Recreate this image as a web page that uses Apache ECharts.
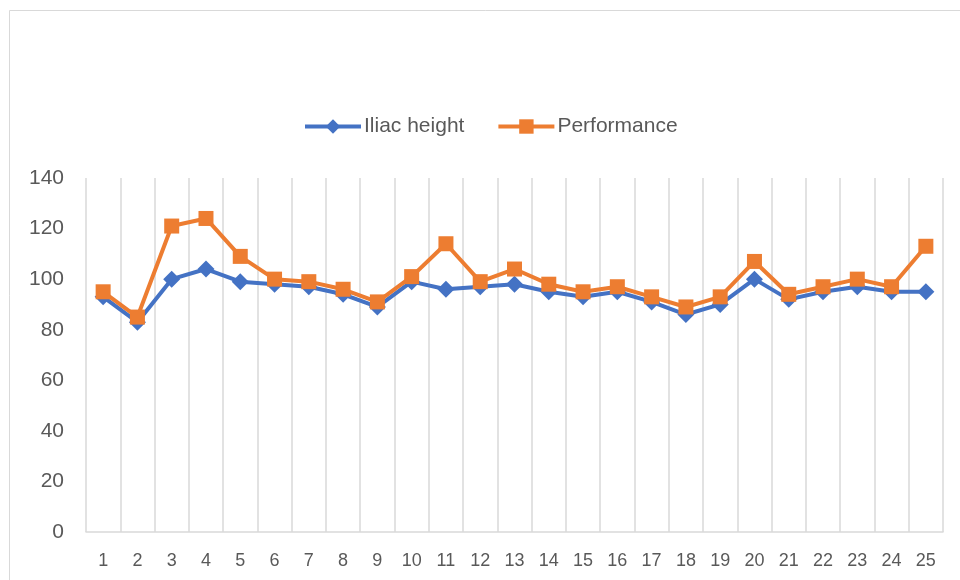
<!DOCTYPE html>
<html>
<head>
<meta charset="utf-8">
<script src="https://cdn.jsdelivr.net/npm/echarts@6/dist/echarts.min.js"></script>
<style>
html,body{margin:0;padding:0;background:#fff;}
#chart{width:960px;height:580px;}
</style>
</head>
<body>
<div id="chart"></div>
<script>
const categories = ['1','2','3','4','5','6','7','8','9','10','11','12','13','14','15','16','17','18','19','20','21','22','23','24','25'];
const iliacHeight = [93, 83, 100, 104, 99, 98, 97, 94, 89, 99, 96, 97, 98, 95, 93, 95, 91, 86, 90, 100, 92, 95, 97, 95, 95];
const performance = [95, 85, 121, 124, 109, 100, 99, 96, 91, 101, 114, 99, 104, 98, 95, 97, 93, 89, 93, 107, 94, 97, 100, 97, 113];
const yTicks = [0, 20, 40, 60, 80, 100, 120, 140];

const FONT = '"Liberation Sans", "Noto Sans", sans-serif';
const TXT = '#595959';

const chart = echarts.init(document.getElementById('chart'));
chart.setOption({
  animation: false,
  backgroundColor: '#ffffff',
  graphic: [{
    type: 'rect',
    shape: { x: 9.5, y: 10.5, width: 1200, height: 1000 },
    style: { fill: 'none', stroke: '#d9d9d9', lineWidth: 1 },
    silent: true
  }],
  legend: {
    top: 111,
    left: 298,
    itemWidth: 56,
    itemHeight: 18,
    itemGap: 32,
    lineStyle: { width: 4 },
    textStyle: { fontFamily: FONT, fontSize: 21, color: TXT, padding: [0, 0, 0, -2] },
    data: ['Iliac height', 'Performance']
  },
  grid: { left: 86, right: 17, top: 178, bottom: 48, containLabel: false },
  xAxis: {
    type: 'category',
    data: categories,
    boundaryGap: true,
    axisLine: { show: true, lineStyle: { color: '#d9d9d9', width: 1.5 } },
    axisTick: { show: false },
    axisLabel: { fontFamily: FONT, fontSize: 18, color: TXT, margin: 20, interval: 0 },
    splitLine: { show: true, interval: 0, lineStyle: { color: '#d9d9d9', width: 1.5 } }
  },
  yAxis: {
    type: 'value',
    min: yTicks[0],
    max: yTicks[yTicks.length - 1],
    interval: 20,
    axisLine: { show: false },
    axisTick: { show: false },
    splitLine: { show: false },
    axisLabel: { fontFamily: FONT, fontSize: 21, color: TXT, margin: 22 }
  },
  series: [
    {
      name: 'Iliac height',
      type: 'line',
      data: iliacHeight,
      symbol: 'diamond',
      symbolSize: 17,
      lineStyle: { color: '#4472c4', width: 4 },
      itemStyle: { color: '#4472c4' },
      z: 2
    },
    {
      name: 'Performance',
      type: 'line',
      data: performance,
      symbol: 'rect',
      symbolSize: 15,
      lineStyle: { color: '#ed7d31', width: 4 },
      itemStyle: { color: '#ed7d31' },
      z: 3
    }
  ]
});
</script>
</body>
</html>
